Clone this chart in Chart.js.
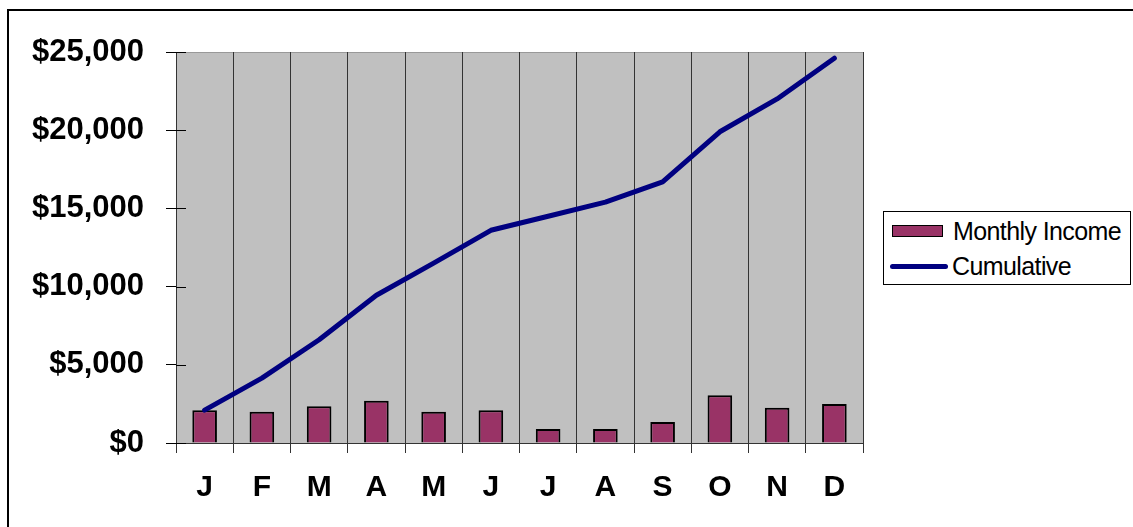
<!DOCTYPE html>
<html>
<head>
<meta charset="utf-8">
<script src="https://cdn.jsdelivr.net/npm/chart.js@4"></script>
<style>
    html, body { margin: 0; padding: 0; background: #fff; }
    #wrap { position: relative; width: 1133px; height: 527px; overflow: hidden; }
    #frame { position: absolute; left: 7px; top: 9px; width: 1200px; height: 600px;
             border-left: 2px solid #000; border-top: 2px solid #000; }
    #legend { position: absolute; left: 883px; top: 211px; width: 246px; height: 72px;
              border: 1px solid #000; background: #fff;
              font-family: "Liberation Sans", Arial, sans-serif; font-size: 25px; color: #000; }
    .row { position: absolute; left: 0; height: 30px; display: flex; align-items: center; letter-spacing: -0.6px; white-space: nowrap; }
    .swatch-bar { width: 49px; height: 10px; background: #993366; border: 1px solid #000; margin-left: 8px; margin-right: 10px; }
    .swatch-line { width: 58px; height: 5px; background: #000080; border-radius: 3px; margin-left: 6px; margin-right: 4px; }
    canvas { position: absolute; left: 0; top: 0; }
</style>
</head>
<body>
<div id="wrap">
    <div id="frame"></div>
    <canvas id="incomeChart" width="1133" height="527"></canvas>
    <div id="legend"></div>
</div>
<script>
const months = ['J', 'F', 'M', 'A', 'M', 'J', 'J', 'A', 'S', 'O', 'N', 'D'];
const monthlyIncome = [2100, 2000, 2350, 2700, 2000, 2100, 900, 900, 1350, 3050, 2250, 2500];
const cumulative = [2100, 4150, 6600, 9450, 11500, 13600, 14500, 15400, 16700, 19900, 22000, 24600];
const yTicks = [0, 5000, 10000, 15000, 20000, 25000];

const FONT = '"Liberation Sans", Arial, sans-serif';

// grey plot background + inward half of the y ticks
const plotArea = {
    id: 'plotArea',
    beforeDraw(chart) {
        const { ctx, chartArea: a } = chart;
        ctx.save();
        ctx.fillStyle = '#c0c0c0';
        ctx.fillRect(a.left, a.top, a.right - a.left, a.bottom - a.top);
        ctx.strokeStyle = '#999';
        ctx.lineWidth = 1;
        ctx.beginPath();
        ctx.moveTo(a.left, a.top + 0.5);
        ctx.lineTo(a.right + 0.5, a.top + 0.5);
        ctx.lineTo(a.right + 0.5, a.bottom);
        ctx.stroke();
        ctx.restore();
    },
    afterDraw(chart) {
        const { ctx, chartArea: a, scales } = chart;
        ctx.save();
        ctx.strokeStyle = '#000';
        ctx.lineWidth = 1;
        yTicks.forEach(v => {
            const y = Math.round(scales.y.getPixelForValue(v)) + 0.5;
            ctx.beginPath();
            ctx.moveTo(a.left, y);
            ctx.lineTo(a.left + 10, y);
            ctx.stroke();
        });
        ctx.restore();
    }
};

const chart = new Chart(document.getElementById('incomeChart'), {
    data: {
        labels: months,
        datasets: [
            {
                type: 'bar',
                label: 'Monthly Income',
                data: monthlyIncome,
                backgroundColor: '#993366',
                borderColor: '#000',
                borderWidth: 2,
                barPercentage: 0.43,
                categoryPercentage: 1,
                order: 1
            },
            {
                type: 'line',
                label: 'Cumulative',
                data: cumulative,
                borderColor: '#000080',
                borderWidth: 5,
                pointRadius: 0,
                tension: 0,
                borderCapStyle: 'round',
                borderJoinStyle: 'round',
                order: 0
            }
        ]
    },
    options: {
        responsive: false,
        animation: false,
        layout: { padding: { left: 0, top: 52, right: 270, bottom: 0 } },
        plugins: {
            legend: { display: false },
            tooltip: { enabled: false }
        },
        scales: {
            x: {
                offset: true,
                grid: {
                    offset: true,
                    color: ctx => (ctx.index === months.length ? '#999' : '#333'),
                    tickColor: '#333',
                    tickLength: 10,
                    lineWidth: 1
                },
                border: { color: '#333', width: 1 },
                ticks: {
                    color: '#000',
                    padding: 17,
                    font: { family: FONT, size: 30, weight: 'bold' }
                },
                afterFit(scale) { scale.height = 84; }
            },
            y: {
                min: 0,
                max: 25000,
                afterBuildTicks(scale) { scale.ticks = yTicks.map(v => ({ value: v })); },
                grid: {
                    color: 'rgba(0,0,0,0)',
                    tickColor: '#000',
                    tickLength: 10
                },
                border: { color: '#333', width: 1 },
                ticks: {
                    color: '#000',
                    padding: 22,
                    font: { family: FONT, size: 31, weight: 'bold' },
                    callback: v => '$' + v.toLocaleString('en-US')
                },
                afterFit(scale) { scale.width = 176; }
            }
        }
    },
    plugins: [plotArea]
});

// boxed legend like the original
const legend = document.getElementById('legend');
chart.data.datasets.forEach((ds, i) => {
    const row = document.createElement('div');
    row.className = 'row';
    row.style.top = (i === 0 ? 4 : 39) + 'px';
    const sw = document.createElement('span');
    sw.className = ds.type === 'bar' ? 'swatch-bar' : 'swatch-line';
    const txt = document.createElement('span');
    txt.textContent = ds.label;
    row.appendChild(sw);
    row.appendChild(txt);
    legend.appendChild(row);
});
</script>
</body>
</html>
